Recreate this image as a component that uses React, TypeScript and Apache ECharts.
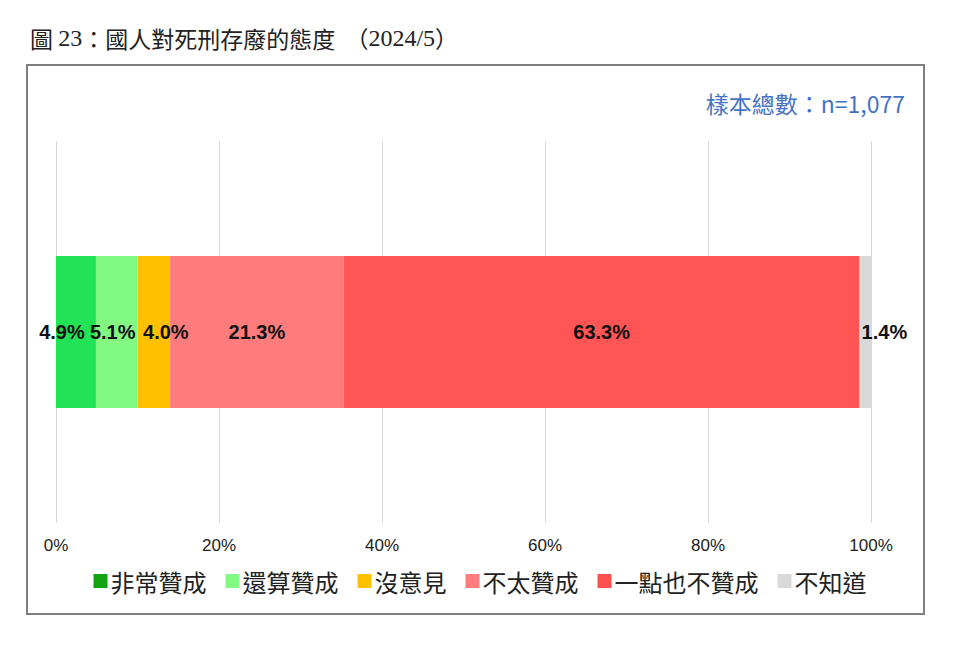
import React, { useEffect, useRef } from "react";
import * as echarts from "echarts";

const categories = ["全體"];
const seriesNames = ["非常贊成", "還算贊成", "沒意見", "不太贊成", "一點也不贊成", "不知道"];
const seriesValues = [4.9, 5.1, 4.0, 21.3, 63.3, 1.4];
const barColors = ["#22e355", "#82fa82", "#ffc000", "#ff7c7c", "#ff5555", "#d9d9d9"];
const legendColors = ["#12a312", "#82fa82", "#ffc000", "#ff7c7c", "#ff5050", "#d9d9d9"];
const labelOffsets = [[-14, 0], [-4, 0], [12, 0], [0, 0], [0, 0], [0, 0]];
const xTicks = [0, 20, 40, 60, 80, 100];
const titleText = "{c|圖 }{d|23}{c|：國人對死刑存廢的態度  （}{d|2024/5}{c|）}";
const sampleText = "樣本總數：n=1,077";

export default function App() {
  const ref = useRef<HTMLDivElement>(null);
  useEffect(() => {
    if (!ref.current) return;
    const chart = echarts.init(ref.current, null, { renderer: "svg" });
    const series = seriesNames.map((name, i) => ({
      name,
      type: "bar",
      stack: "total",
      barWidth: 152,
      data: [seriesValues[i]],
      itemStyle: { color: barColors[i] },
      label: {
        show: true,
        position: i === seriesNames.length - 1 ? "insideLeft" : "inside",
        distance: 2,
        offset: labelOffsets[i],
        formatter: (p: any) => p.value.toFixed(1) + "%",
        color: "#111",
        fontWeight: "bold",
        fontSize: 20,
        fontFamily: "Liberation Sans, Arial, sans-serif",
      },
    }));
    chart.setOption({
      animation: false,
      backgroundColor: "#ffffff",
      graphic: [
        {
          type: "rect",
          shape: { x: 27, y: 65, width: 897, height: 549 },
          style: { fill: "none", stroke: "#7f7f7f", lineWidth: 2 },
        },
        {
          type: "text",
          x: 30,
          y: 38,
          style: {
            text: titleText,
            fill: "#222",
            textVerticalAlign: "middle",
            rich: {
              c: { fontSize: 23, fontFamily: '"Noto Sans CJK TC", serif', fill: "#222", color: "#222" },
              d: { fontSize: 24, fontFamily: '"Liberation Serif", serif', fill: "#222", color: "#222" },
            },
          },
        },
        {
          type: "text",
          x: 905,
          y: 103,
          style: {
            text: sampleText,
            font: '23px "Noto Sans CJK TC", "Noto Sans", sans-serif',
            fill: "#4472c4",
            textAlign: "right",
            textVerticalAlign: "middle",
          },
        },
      ],
      legend: {
        left: "center",
        top: 564,
        itemWidth: 14,
        itemHeight: 14,
        itemGap: 19,
        icon: "rect",
        textStyle: {
          fontSize: 24,
          color: "#222",
          fontFamily: '"Noto Sans CJK TC", sans-serif',
          padding: [0, 0, 0, -2],
        },
        data: seriesNames.map((n, i) => ({ name: n, itemStyle: { color: legendColors[i] } })),
      },
      grid: { left: 56, right: 89, top: 141, bottom: 126 },
      xAxis: {
        type: "value",
        min: 0,
        max: 100,
        interval: 20,
        axisLine: { show: false },
        axisTick: { show: false },
        splitLine: { show: true, lineStyle: { color: "#d9d9d9", width: 1 } },
        axisLabel: {
          margin: 14,
          fontSize: 17,
          color: "#222",
          fontFamily: "Liberation Sans, Arial, sans-serif",
          formatter: (v: number) => (xTicks.includes(v) ? v + "%" : ""),
        },
      },
      yAxis: {
        type: "category",
        data: categories,
        axisLine: { show: false },
        axisTick: { show: false },
        axisLabel: { show: false },
      },
      series,
    });
    return () => chart.dispose();
  }, []);
  return (
    <div
      ref={ref}
      style={{ position: "fixed", left: 0, top: 0, width: 960, height: 649, background: "#fff" }}
    />
  );
}
